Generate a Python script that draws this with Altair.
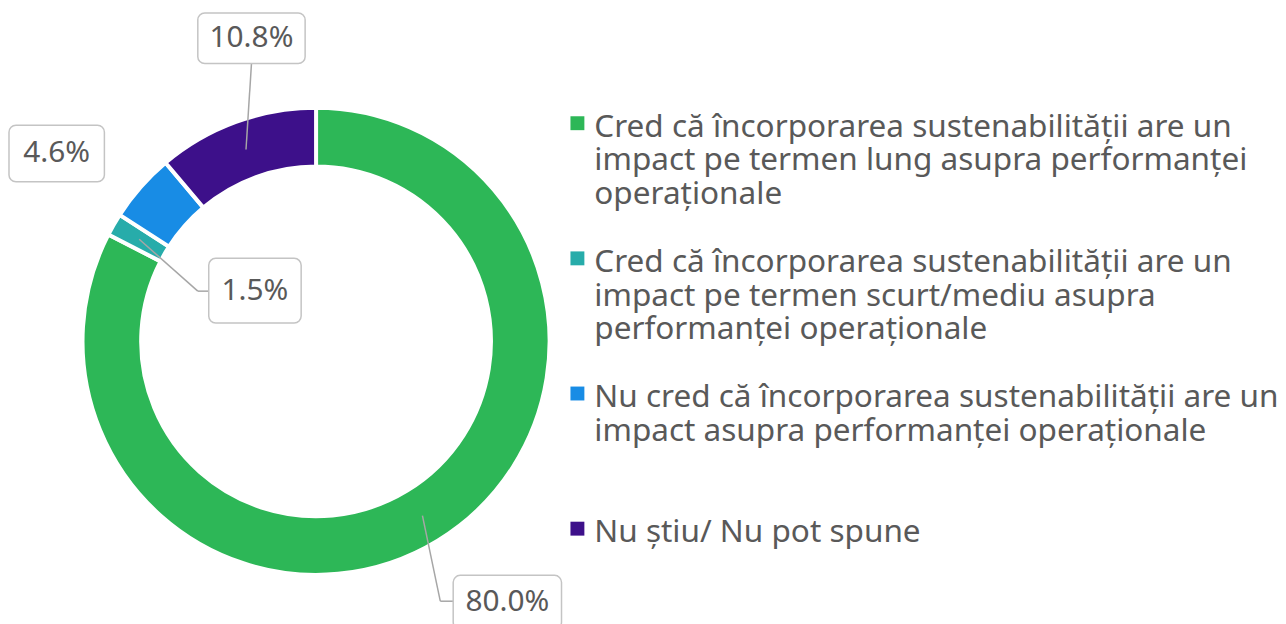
import altair as alt
import pandas as pd

# ---------------- data ----------------
categories = [
    "Cred că încorporarea sustenabilității are un impact pe termen lung asupra performanței operaționale",
    "Cred că încorporarea sustenabilității are un impact pe termen scurt/mediu asupra performanței operaționale",
    "Nu cred că încorporarea sustenabilității are un impact asupra performanței operaționale",
    "Nu știu/ Nu pot spune",
]
legend_lines = [
    "Cred că încorporarea sustenabilității are un|impact pe termen lung asupra performanței|operaționale",
    "Cred că încorporarea sustenabilității are un|impact pe termen scurt/mediu asupra|performanței operaționale",
    "Nu cred că încorporarea sustenabilității are un|impact asupra performanței operaționale",
    "Nu știu/ Nu pot spune",
]
values = [80.0, 1.5, 4.6, 10.8]
value_labels = ["80.0%", "1.5%", "4.6%", "10.8%"]
colors = ["#2DB757", "#27ACAA", "#188CE5", "#3D108A"]

# ---------------- layout (callout boxes & leader elbows, pixels) ----------------
box_left = [448, 202, 1, 191]
box_right = [557, 295, 97, 299]
box_top = [569, 250, 116, 3]
box_bottom = [623, 315, 173, 54]
elbow_x = [435, 191, None, 245]
elbow_y = [595, 283, None, 54]
end_x = [448, 202, None, 245]
end_y = [595, 283, None, 54]

W, H = 1278, 616
CX, CY = 310, 333.5
R_IN, R_OUT, R_MID = 176, 235, 205.5
TEXT = "#595959"

df = pd.DataFrame({
    "cat": categories,
    "idx": list(range(len(categories))),
    "value": values,
    "label": value_labels,
    "legend": legend_lines,
    "bx1": box_left, "bx2": box_right, "by1": box_top, "by2": box_bottom,
    "ex": elbow_x, "ey": elbow_y, "tx": end_x, "ty": end_y,
})

color_scale = alt.Scale(domain=categories, range=colors)
base = alt.Chart(df)

arcs = base.mark_arc(innerRadius=R_IN, outerRadius=R_OUT, stroke="white", strokeWidth=4).encode(
    theta=alt.Theta("value:Q", stack=True),
    order=alt.Order("idx:Q", sort="ascending"),
    color=alt.Color("cat:N", scale=color_scale, legend=None),
    x=alt.value(CX),
    y=alt.value(CY),
)

lead = base.transform_joinaggregate(total="sum(value)").transform_window(
    cum="sum(value)", sort=[alt.SortField("idx", order="ascending")], frame=[None, 0]
).transform_calculate(
    mid="2*PI*(datum.cum - datum.value/2)/datum.total",
    sx=f"{CX} + {R_MID}*sin(datum.mid)",
    sy=f"{CY} - {R_MID}*cos(datum.mid)",
).transform_filter("isValid(datum.ex)")

seg1 = lead.mark_rule(color="#a6a6a6", strokeWidth=1.5).encode(
    x=alt.X("sx:Q", scale=None, axis=None),
    y=alt.Y("sy:Q", scale=None, axis=None),
    x2="ex:Q", y2="ey:Q",
)
seg2 = lead.mark_rule(color="#a6a6a6", strokeWidth=1.5).encode(
    x=alt.X("ex:Q", scale=None, axis=None),
    y=alt.Y("ey:Q", scale=None, axis=None),
    x2="tx:Q", y2="ty:Q",
)

boxes = base.mark_rect(fill="white", stroke="#c4c4c4", strokeWidth=1.5, cornerRadius=7).encode(
    x=alt.X("bx1:Q", scale=None, axis=None),
    x2="bx2:Q",
    y=alt.Y("by1:Q", scale=None, axis=None),
    y2="by2:Q",
)

box_text = base.transform_calculate(
    cx="(datum.bx1 + datum.bx2)/2", cy="(datum.by1 + datum.by2)/2"
).mark_text(font="Noto Sans", fontSize=30, color=TEXT, align="center", baseline="middle").encode(
    x=alt.X("cx:Q", scale=None, axis=None),
    y=alt.Y("cy:Q", scale=None, axis=None),
    text="label:N",
)

leg_y = alt.Y("idx:O", scale=alt.Scale(type="point", range=[127.5, 535.5], padding=0), axis=None)

leg_sq = base.mark_square(size=196, opacity=1, yOffset=-13.5).encode(
    x=alt.value(573),
    y=leg_y,
    color=alt.Color("cat:N", scale=color_scale, legend=None),
)
leg_txt = base.mark_text(
    font="Noto Sans", fontSize=31.7, color=TEXT, align="left", baseline="alphabetic",
    lineBreak="|", lineHeight=34,
).encode(
    x=alt.value(590),
    y=leg_y,
    text="legend:N",
)

chart = alt.layer(arcs, seg1, seg2, boxes, box_text, leg_sq, leg_txt).resolve_scale(
    y="independent"
).properties(
    width=W, height=H, padding=0, autosize=alt.AutoSizeParams(type="none"),
    background="white",
).configure_view(stroke=None)

chart.save("out.html", embed_options={"renderer": "svg", "actions": False})
